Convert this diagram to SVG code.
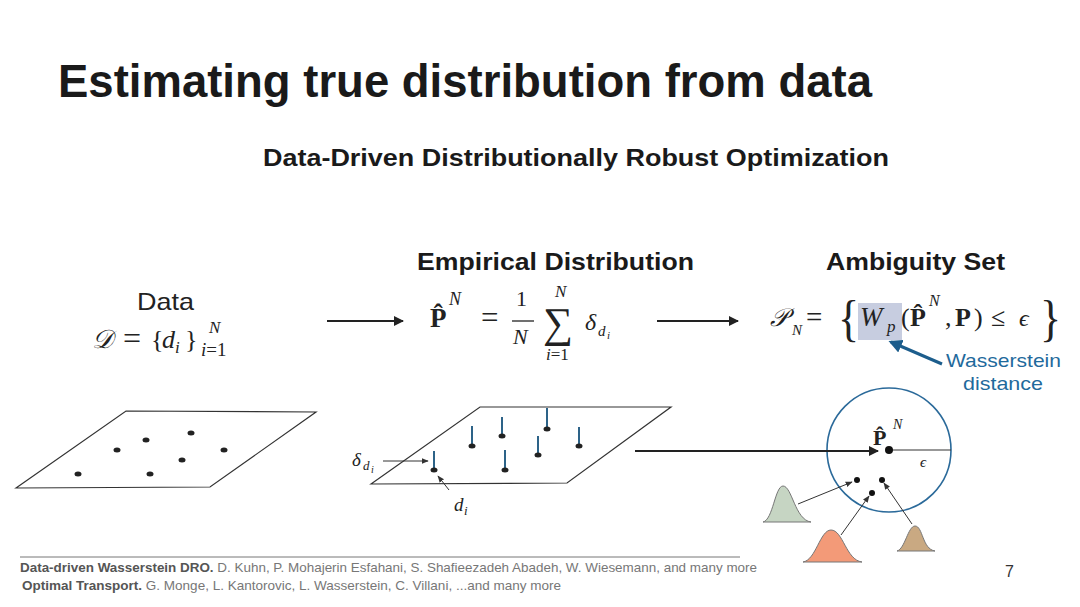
<svg xmlns="http://www.w3.org/2000/svg" width="1080" height="607" viewBox="0 0 1080 607">
<style>
.sans{font-family:"Liberation Sans",Arial,sans-serif}
.b{font-weight:bold}
.m{font-family:"Liberation Serif","Times New Roman",serif;fill:#222}
.it{font-style:italic}
.plane{fill:none;stroke:#333;stroke-width:1.2}
.dot{fill:#222}
.pin{stroke:#2d6388;stroke-width:2}
.con{stroke:#222;stroke-width:2;fill:none}
.thin{stroke:#333;stroke-width:1;fill:none}
.gauss{stroke:#777;stroke-width:1}
</style>
<defs>
<marker id="ah" viewBox="0 0 10 10" refX="9" refY="5" markerWidth="5" markerHeight="5" orient="auto"><path d="M0,0 L10,5 L0,10 Z" fill="#222"/></marker>
<marker id="ahs" viewBox="0 0 10 10" refX="9" refY="5" markerWidth="7" markerHeight="7" orient="auto"><path d="M0,1 L10,5 L0,9 Z" fill="#333"/></marker>
<marker id="ahb" viewBox="0 0 10 10" refX="8" refY="5" markerWidth="4.5" markerHeight="4.5" orient="auto"><path d="M0,0 L10,5 L0,10 Z" fill="#1c5d8c"/></marker>
</defs>
<rect width="1080" height="607" fill="#fff"/>

<g id="title">
<text class="sans b" x="58" y="97" font-size="47" fill="#1a1a1a" textLength="814" lengthAdjust="spacingAndGlyphs">Estimating true distribution from data</text>
<text class="sans b" x="263" y="166" font-size="24" fill="#1a1a1a" textLength="626" lengthAdjust="spacingAndGlyphs">Data-Driven Distributionally Robust Optimization</text>
</g>

<g id="data">
<text class="sans" x="137" y="310" font-size="24" fill="#222" textLength="57" lengthAdjust="spacingAndGlyphs">Data</text>
<text class="m it" x="92" y="348" font-size="26">𝒟</text>
<text class="m" x="123" y="349" font-size="32">=</text>
<text class="m" x="151" y="348" font-size="26">{</text>
<text class="m it" x="162" y="348" font-size="26">d</text>
<text class="m it" x="175" y="353" font-size="17">i</text>
<text class="m" x="185" y="348" font-size="26">}</text>
<text class="m it" x="209" y="333" font-size="17">N</text>
<text class="m" x="201" y="356" font-size="19"><tspan font-style="italic">i</tspan>=1</text>
</g>

<g id="empirical">
<text class="sans b" x="417" y="270" font-size="24" fill="#1a1a1a" textLength="277" lengthAdjust="spacingAndGlyphs">Empirical Distribution</text>
<text class="m b" x="430" y="327" font-size="27">P̂</text>
<text class="m it" x="449" y="305" font-size="18">N</text>
<text class="m" x="481" y="328" font-size="31">=</text>
<text class="m" x="516" y="306" font-size="22">1</text>
<line x1="512" y1="321" x2="534" y2="321" stroke="#222" stroke-width="1.3"/>
<text class="m it" x="513" y="344" font-size="22">N</text>
<text class="m" x="543" y="337" font-size="42">∑</text>
<text class="m it" x="555" y="297" font-size="17">N</text>
<text class="m" x="546" y="360" font-size="17"><tspan font-style="italic">i</tspan>=1</text>
<text class="m it" x="585" y="330" font-size="24">δ</text>
<text class="m it" x="598" y="336" font-size="15">d</text>
<text class="m it" x="607" y="339" font-size="11">i</text>
</g>

<g id="ambiguity">
<text class="sans b" x="826" y="270" font-size="24" fill="#1a1a1a" textLength="179" lengthAdjust="spacingAndGlyphs">Ambiguity Set</text>
<rect x="858" y="303" width="44" height="37" fill="#c7cde0"/>
<text class="m it" x="770" y="326" font-size="25">𝒫</text>
<text class="m it" x="792" y="335" font-size="15">N</text>
<text class="m" x="806" y="327" font-size="29">=</text>
<text class="m" x="838" y="335" font-size="44" transform="translate(838,335) scale(1,1.15) translate(-838,-335)">{</text>
<text class="m it" x="860" y="326" font-size="27">W</text>
<text class="m it" x="887" y="332" font-size="17">p</text>
<text class="m" x="901" y="326" font-size="26">(</text>
<text class="m b" x="910" y="326" font-size="26">P̂</text>
<text class="m it" x="929" y="306" font-size="16">N</text>
<text class="m" x="945" y="326" font-size="26">,</text>
<text class="m b" x="955" y="326" font-size="26">P</text>
<text class="m" x="974" y="326" font-size="26">)</text>
<text class="m" x="991" y="326" font-size="26">≤</text>
<text class="m it" x="1019" y="326" font-size="24">ϵ</text>
<text class="m" x="1040" y="335" font-size="44" transform="translate(1040,335) scale(1,1.15) translate(-1040,-335)">}</text>
<text class="sans" x="946" y="367" font-size="19" fill="#1f6a9c" textLength="115" lengthAdjust="spacingAndGlyphs">Wasserstein</text>
<text class="sans" x="963" y="390" font-size="19" fill="#1f6a9c" textLength="80" lengthAdjust="spacingAndGlyphs">distance</text>
</g>

<g id="data-plane">
<polygon class="plane" points="16,488 126,411 316,412 210,487"/>
<ellipse class="dot" cx="78" cy="474" rx="3.5" ry="2.5"/>
<ellipse class="dot" cx="117" cy="450" rx="3.5" ry="2.5"/>
<ellipse class="dot" cx="146" cy="440" rx="3.5" ry="2.5"/>
<ellipse class="dot" cx="191" cy="433" rx="3.5" ry="2.5"/>
<ellipse class="dot" cx="224" cy="450" rx="3.5" ry="2.5"/>
<ellipse class="dot" cx="182" cy="460" rx="3.5" ry="2.5"/>
<ellipse class="dot" cx="150" cy="474" rx="3.5" ry="2.5"/>
</g>

<g id="empirical-plane">
<polygon class="plane" points="371,484 480,407 671,407 567,483"/>
<line class="pin" x1="434" y1="451" x2="434" y2="470"/>
<line class="pin" x1="472" y1="426" x2="472" y2="446"/>
<line class="pin" x1="502" y1="417" x2="502" y2="436"/>
<line class="pin" x1="547" y1="408" x2="547" y2="429"/>
<line class="pin" x1="538" y1="436" x2="538" y2="455"/>
<line class="pin" x1="505" y1="450" x2="505" y2="470"/>
<line class="pin" x1="579" y1="427" x2="579" y2="446"/>
<ellipse class="dot" cx="434" cy="470" rx="3.5" ry="2.5"/>
<ellipse class="dot" cx="472" cy="446" rx="3.5" ry="2.5"/>
<ellipse class="dot" cx="502" cy="436" rx="3.5" ry="2.5"/>
<ellipse class="dot" cx="547" cy="429" rx="3.5" ry="2.5"/>
<ellipse class="dot" cx="538" cy="455" rx="3.5" ry="2.5"/>
<ellipse class="dot" cx="505" cy="470" rx="3.5" ry="2.5"/>
<ellipse class="dot" cx="579" cy="446" rx="3.5" ry="2.5"/>
<text class="m it" x="352" y="466" font-size="19">δ</text>
<text class="m it" x="363" y="470" font-size="13">d</text>
<text class="m it" x="371" y="473" font-size="10">i</text>
<text class="m it" x="454" y="511" font-size="19">d</text>
<text class="m it" x="464" y="515" font-size="13">i</text>
</g>

<g id="ball">
<circle cx="889" cy="450" r="62" fill="none" stroke="#2b6a9a" stroke-width="1.6"/>
<line x1="889" y1="450" x2="951" y2="450" stroke="#333" stroke-width="1.2"/>
<circle cx="889" cy="450" r="4" fill="#111"/>
<text class="m b" x="873" y="445" font-size="22">P̂</text>
<text class="m it" x="893" y="429" font-size="14">N</text>
<text class="m it" x="920" y="467" font-size="15">ϵ</text>
<circle cx="857" cy="480" r="3" fill="#111"/>
<circle cx="882" cy="480" r="3" fill="#111"/>
<circle cx="872" cy="493" r="3" fill="#111"/>
</g>

<g id="distributions">
<path class="gauss" d="M763,522 C773,520 775,486 783,486 C792,486 795,520 811,522 Z" fill="#c6d5c3"/>
<path class="gauss" d="M803,562 C816,560 820,530 831,530 C843,530 846,560 862,562 Z" fill="#f39a78"/>
<path class="gauss" d="M897,551 C905,549 908,526 915,526 C923,526 922,549 935,551 Z" fill="#c9a982"/>
</g>

<g id="connectors">
<line class="con" x1="327" y1="321" x2="403" y2="321" marker-end="url(#ah)"/>
<line class="con" x1="657" y1="321" x2="738" y2="321" marker-end="url(#ah)"/>
<line class="con" x1="635" y1="451" x2="878" y2="451" marker-end="url(#ah)"/>
<line x1="942" y1="364" x2="891" y2="342" stroke="#1c5d8c" stroke-width="3" marker-end="url(#ahb)"/>
<line class="thin" x1="383" y1="461" x2="428" y2="461" marker-end="url(#ahs)"/>
<line class="thin" x1="449" y1="490" x2="438" y2="476" marker-end="url(#ahs)"/>
<line class="thin" x1="798" y1="504" x2="852" y2="482" marker-end="url(#ahs)"/>
<line class="thin" x1="841" y1="535" x2="869" y2="496" marker-end="url(#ahs)"/>
<line class="thin" x1="912" y1="524" x2="884" y2="483" marker-end="url(#ahs)"/>
</g>

<g id="footer">
<line x1="20" y1="557" x2="740" y2="557" stroke="#777" stroke-width="1"/>
<text class="sans" x="20" y="572" font-size="13" fill="#777" textLength="737" lengthAdjust="spacingAndGlyphs"><tspan font-weight="bold" fill="#555">Data-driven Wasserstein DRO.</tspan> D. Kuhn, P. Mohajerin Esfahani, S. Shafieezadeh Abadeh, W. Wiesemann, and many more</text>
<text class="sans" x="22" y="590" font-size="13" fill="#777" textLength="539" lengthAdjust="spacingAndGlyphs"><tspan font-weight="bold" fill="#555">Optimal Transport.</tspan> G. Monge, L. Kantorovic, L. Wasserstein, C. Villani, ...and many more</text>
<text class="sans" x="1005" y="577" font-size="16" fill="#333">7</text>
</g>
</svg>
